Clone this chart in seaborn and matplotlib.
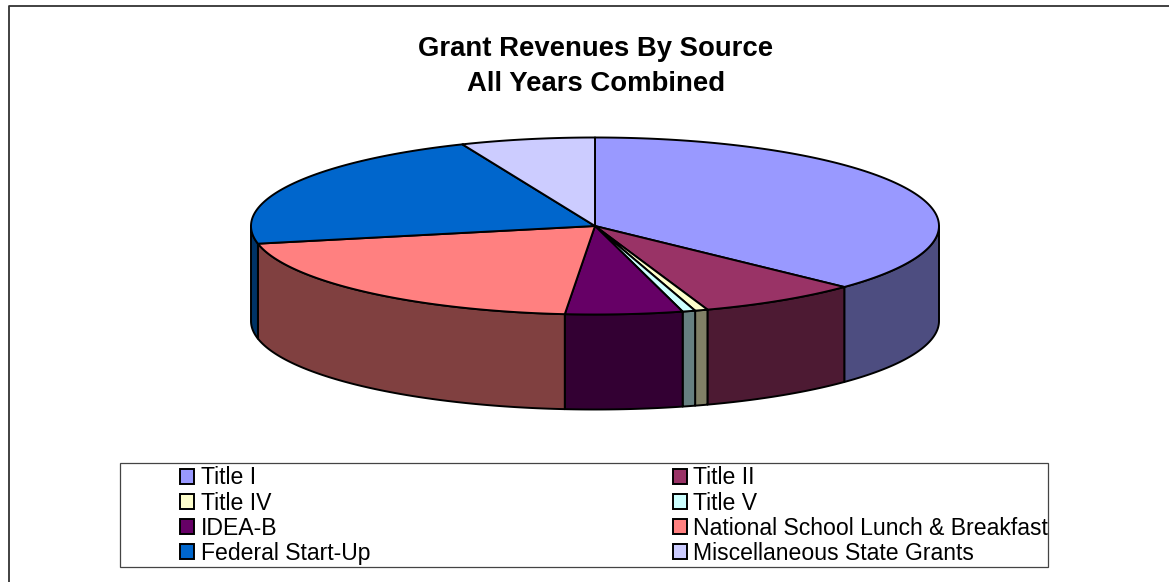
import numpy as np
import seaborn as sns
import matplotlib
matplotlib.use("Agg")
import matplotlib.pyplot as plt
from matplotlib.patches import Patch, Polygon, Rectangle

sources = ["Title I", "Title II", "Title IV", "Title V", "IDEA-B",
           "National School Lunch & Breakfast", "Federal Start-Up",
           "Miscellaneous State Grants"]
shares = [37.1, 7.6, 0.6, 0.6, 5.5, 20.4, 21.9, 6.3]
colors = ["#9999FF", "#993366", "#FFFFCC", "#CCFFFF", "#660066",
          "#FF8080", "#0066CC", "#CCCCFF"]
title = "Grant Revenues By Source\nAll Years Combined"

sns.set_theme(style="white")
plt.rcParams["font.family"] = ["Liberation Sans", "DejaVu Sans"]

palette = sns.color_palette(colors)

# ellipse of the pie in pixels
cx, cy = 595, 226
rx, ry = 344, 88.5
depth = 95


def rim(t):
    return np.column_stack([cx + rx * np.sin(t), cy - ry * np.cos(t)])


fig = plt.figure(figsize=(11.69, 5.82), dpi=100)
ax = fig.add_axes([0, 0, 1, 1])
ax.set_xlim(0, 1169)
ax.set_ylim(582, 0)
ax.axis("off")

# chart area is cut off on the right and at the bottom
ax.plot([9, 9, 1169], [582, 6, 6], color="#333333", lw=1.3, clip_on=False)

edges = np.radians(np.cumsum([0] + shares) / sum(shares) * 360)
for start, end, col in zip(edges[:-1], edges[1:], palette):
    # side wall, only the part on the front half shows
    lo, hi = max(start, np.pi / 2), min(end, 3 * np.pi / 2)
    if lo < hi:
        t = np.linspace(lo, hi, 80)
        upper = rim(t)
        lower = upper[::-1] + [0, depth]
        dark = tuple(c * 0.5 for c in col)
        ax.add_patch(Polygon(np.vstack([upper, lower]), closed=True,
                             fc=dark, ec="black", lw=1.4, joinstyle="round"))

for start, end, col in zip(edges[:-1], edges[1:], palette):
    t = np.linspace(start, end, 120)
    pts = np.vstack([[cx, cy], rim(t)])
    ax.add_patch(Polygon(pts, closed=True, fc=col, ec="black", lw=1.4,
                         joinstyle="round"))

ax.text(596, 66.5, title, ha="center", va="center", fontsize=19.8,
        fontweight="bold", color="black", linespacing=1.47)

ax.add_patch(Rectangle((120, 463), 928, 104, fc="white", ec="#444444", lw=0.9))
handles = [Patch(fc=c, ec="black", lw=1.4) for c in palette]
order = [0, 2, 4, 6, 1, 3, 5, 7]
leg = ax.legend([handles[i] for i in order], [sources[i] for i in order],
                ncol=2, frameon=False, fontsize=16.6,
                loc="upper left", bbox_to_anchor=(180 / 1169, 1 - 466.5 / 582),
                borderpad=0, borderaxespad=0,
                handlelength=0.61, handleheight=0.61, handletextpad=0.3,
                labelspacing=0.09, columnspacing=13.1)
for txt in leg.get_texts():
    txt.set_color("black")

fig.savefig("out.png", dpi=100)
